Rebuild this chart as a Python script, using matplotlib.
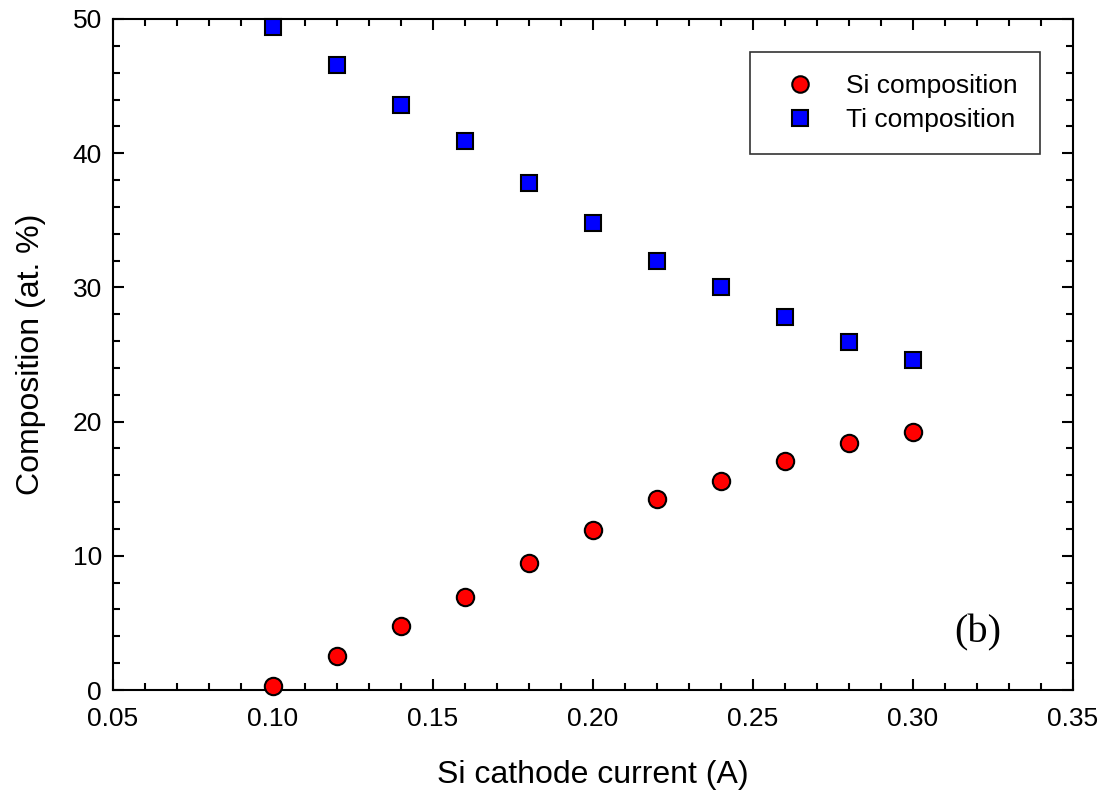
import matplotlib

matplotlib.use("Agg")
import matplotlib.pyplot as plt
from matplotlib.ticker import MultipleLocator

# Si cathode current (A) and film composition (at. %)
current = [0.10, 0.12, 0.14, 0.16, 0.18, 0.20, 0.22, 0.24, 0.26, 0.28, 0.30]
si_comp = [0.3, 2.5, 4.8, 6.9, 9.5, 11.9, 14.2, 15.6, 17.1, 18.4, 19.2]
ti_comp = [49.4, 46.6, 43.6, 40.9, 37.8, 34.8, 32.0, 30.0, 27.8, 25.9, 24.6]

plt.rcParams["font.family"] = ["Liberation Sans", "DejaVu Sans"]

fig = plt.figure(figsize=(11.03, 7.95), dpi=100)
ax = fig.add_axes([113 / 1103, 1 - 690 / 795, 960 / 1103, 671 / 795])

ax.plot(current, si_comp, "o", ms=12.5, mfc="#ff0000", mec="black", mew=1.5,
        label="Si composition", clip_on=False, zorder=3)
ax.plot(current, ti_comp, "s", ms=11.5, mfc="#0000ff", mec="black", mew=1.5,
        label="Ti composition", clip_on=False, zorder=3)

ax.set_xlim(0.05, 0.35)
ax.set_ylim(0, 50)
ax.xaxis.set_major_locator(MultipleLocator(0.05))
ax.xaxis.set_minor_locator(MultipleLocator(0.01))
ax.yaxis.set_major_locator(MultipleLocator(10))
ax.yaxis.set_minor_locator(MultipleLocator(2))
ax.xaxis.set_major_formatter(lambda v, pos: f"{v:.2f}")

ax.tick_params(which="both", direction="in", top=True, right=True,
               width=1.5, labelsize=19)
ax.tick_params(which="major", length=8, pad=12)
ax.tick_params(which="minor", length=5)
ax.tick_params(axis="y", which="major", pad=8)
for spine in ax.spines.values():
    spine.set_linewidth(1.5)

ax.set_xlabel("Si cathode current (A)", fontsize=23, labelpad=21)
ax.set_ylabel("Composition (at. %)", fontsize=23, labelpad=19)

leg = ax.legend(loc="upper right", bbox_to_anchor=(0.9655, 0.951), fontsize=19,
                frameon=True, fancybox=False, edgecolor="black",
                borderpad=0.85, handletextpad=0.67, labelspacing=0.36,
                borderaxespad=0, handlelength=2.1, markerscale=0.95)
leg.get_frame().set_linewidth(1.2)

ax.text(0.901, 0.085, "(b)", transform=ax.transAxes, ha="center", va="center",
        fontsize=29, family=["Liberation Serif", "DejaVu Serif"])

fig.savefig("out.png", dpi=100)
